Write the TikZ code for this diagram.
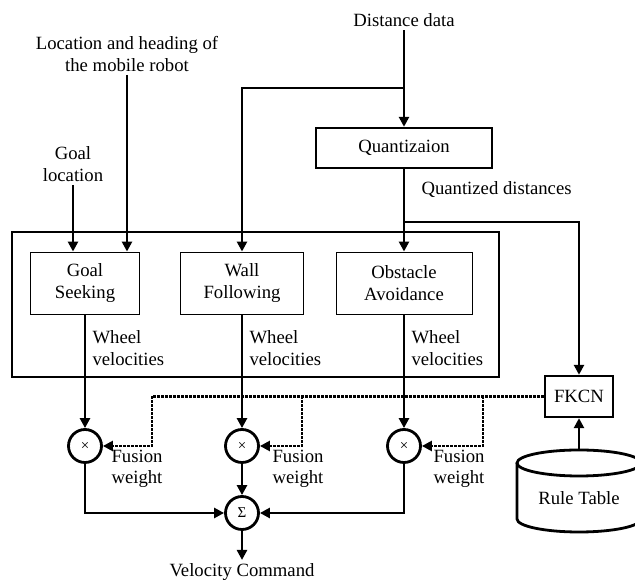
\documentclass[tikz,border=0pt]{standalone}
\usepackage{fontspec}
\setmainfont{Liberation Serif}
\usetikzlibrary{arrows.meta}
\tikzset{
	ln/.style={line width=2.8pt},
	dotln/.style={line width=2.4pt, dash pattern=on 2.4pt off 1.6pt},
	blk/.style={draw, line width=0.9pt, align=center, minimum height=62pt},
	qbox/.style={draw, line width=2.4pt},
	op/.style={draw, circle, line width=2.8pt, minimum size=33pt, inner sep=0pt, font=\fontsize{15}{15}\selectfont},
	lbl/.style={anchor=west, align=left}
}

\begin{document}
\begin{tikzpicture}[x=1pt, y=1pt, font=\fontsize{18.7}{21.5}\selectfont, >={Triangle[length=10pt,width=10pt]}]
		\useasboundingbox (0,0) rectangle (635,580);
		\begin{scope}
			\node (dist) at (404,560) {Distance data};
			\node[align=center] (loc) at (127,526) {Location and heading of\\the mobile robot};
			\node[align=center] (goal) at (73,416) {Goal\\location};
			\node[qbox, minimum width=176pt, minimum height=40pt] (quant) at (404,432) {Quantizaion};
			\node[lbl] (qd) at (418,390) {Quantized distances};
	
			\draw[ln] (12,203) rectangle (499,348);
			\node[blk, minimum width=109pt] (gs) at (85,297) {Goal\\Seeking};
			\node[blk, minimum width=123pt] (wf) at (242,297) {Wall\\Following};
			\node[blk, minimum width=136pt] (oa) at (404,297) {Obstacle\\Avoidance};
		
			\coordinate (j1) at (404,492);
			\coordinate (j2) at (404,358);
			\draw[ln] (dist.south) to (j1);
			\draw[ln,->] (j1) to (quant.north);
			\draw[ln,->] (j1) -| (wf.north);
			\draw[ln,->] (loc.south) to (loc.south |- gs.north);
			\draw[ln,->] (goal.south) to (goal.south |- gs.north);
			\draw[ln] (quant.south) to (j2);
			\draw[ln,->] (j2) to (oa.north);
		
			\node[lbl] (wv1) at (89,232) {Wheel\\velocities};
			\node[lbl] (wv2) at (246,232) {Wheel\\velocities};
			\node[lbl] (wv3) at (408,232) {Wheel\\velocities};
		
			\node[op] (m1) at (85,134) {×};
			\node[op] (m2) at (242,134) {×};
			\node[op] (m3) at (404,134) {×};
			\node[op] (sum) at (242,67) {Σ};
			\node (vel) at (242,8) {Velocity Command};
		
			\draw[ln,->] (gs.south) to (m1.north);
			\draw[ln,->] (wf.south) to (m2.north);
			\draw[ln,->] (oa.south) to (m3.north);
			\draw[ln,->] (m2.south) to (sum.north);
			\draw[ln,->] (m1.south) |- (sum.west);
			\draw[ln,->] (m3.south) |- (sum.east);
			\draw[ln,->] (sum.south) to (vel.north);
		
			\node[qbox, minimum width=68pt, minimum height=41pt] (fkcn) at (579,183.5) {FKCN};
			\draw[ln,->] (j2) -| (fkcn.north);
		
			\coordinate (d1) at (152,183.5);
			\coordinate (d2) at (302,183.5);
			\coordinate (d3) at (483,183.5);
			\draw[dotln] (fkcn.west) to (d1);
			\draw[dotln,->] (d1) |- (m1.east);
			\draw[dotln,->] (d2) |- (m2.east);
			\draw[dotln,->] (d3) |- (m3.east);
			\node[lbl] (fw1) at (108,111) {Fusion\\weight};
			\node[lbl] (fw2) at (269,111) {Fusion\\weight};
			\node[lbl] (fw3) at (430,111) {Fusion\\weight};
		
			\draw[ln] (579,117) ellipse (62 and 13);
			\draw[ln] (517,117) -- (517,61) arc (180:360:62 and 13) -- (641,117);
			\node (rule) at (579,82) {Rule Table};
			\coordinate (rtop) at (579,130);
			\draw[ln,->] (rtop) to (fkcn.south);
		\end{scope}
	\end{tikzpicture}
\end{document}
